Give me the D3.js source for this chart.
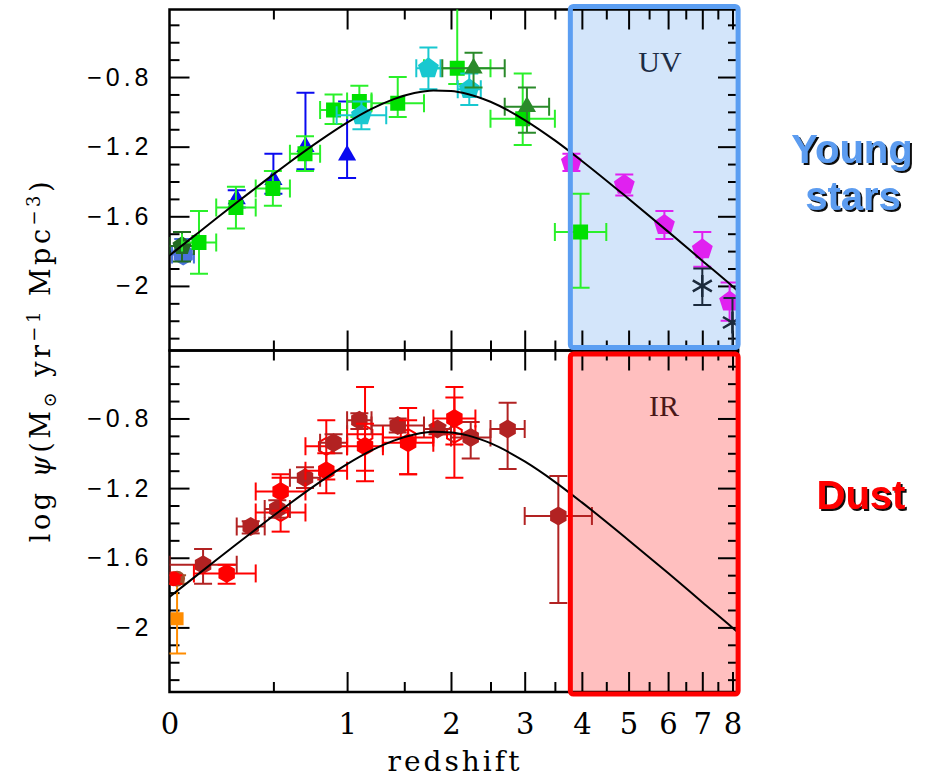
<!DOCTYPE html>
<html>
<head>
<meta charset="utf-8">
<script src="https://cdn.jsdelivr.net/npm/d3@7"></script>
<style>
  html, body { margin: 0; padding: 0; background: #ffffff; }
  svg { display: block; }
</style>
</head>
<body>
<script>
// ---------------- data ----------------
// axis ticks
const xMajorTicks = [0, 1, 2, 3, 4, 5, 6, 7, 8];
const xMinorTicks = [0.5, 1.5, 2.5, 3.5, 4.5, 5.5, 6.5, 7.5];
const yMajorTicks = [-0.8, -1.2, -1.6, -2.0];
const yTickLabels = ["\u22120.8", "\u22121.2", "\u22121.6", "\u22122"];
const yMinorTicks = [-0.5, -0.6, -0.7, -0.9, -1.0, -1.1, -1.3, -1.4, -1.5, -1.7, -1.8, -1.9, -2.1, -2.2, -2.3];

// best-fit star formation history curve
const curveZ   = [0, 0.1, 0.2, 0.3, 0.4, 0.5, 0.6, 0.8, 1.0, 1.2, 1.4, 1.6, 1.8, 2.0, 2.2, 2.5, 3.0, 3.5, 4.0, 5.0, 6.0, 7.0, 8.0, 8.2];
const curveLog = [-1.825, -1.714, -1.613, -1.521, -1.437, -1.359, -1.288, -1.164, -1.062, -0.983, -0.927, -0.892, -0.877, -0.880, -0.897, -0.942, -1.047, -1.164, -1.282, -1.499, -1.688, -1.855, -2.002, -2.030];

// ---- rest-frame UV measurements ----
const wyderZ = [0.055], wyderZlo = [0.01], wyderZhi = [0.1];
const wyderLog = [-1.82], wyderUp = [0.09], wyderDn = [0.02];

const robothamZ = [0.05], robothamZlo = [0.0], robothamZhi = [0.1];
const robothamLog = [-1.77], robothamUp = [0.08], robothamDn = [0.09];

const schiminovichZ = [0.3, 0.5, 0.7, 1.0];
const schiminovichLog = [-1.50, -1.39, -1.20, -1.25];
const schiminovichUp = [0.05, 0.15, 0.31, 0.31];
const schiminovichDn = [0.05, 0.08, 0.13, 0.13];

const cucciatiZ   = [0.122, 0.296, 0.497, 0.697, 0.897, 1.098, 1.437, 2.074, 2.969, 3.975];
const cucciatiZlo = [0.05, 0.2, 0.4, 0.6, 0.8, 1.0, 1.2, 1.7, 2.5, 3.5];
const cucciatiZhi = [0.2, 0.4, 0.6, 0.8, 1.0, 1.2, 1.7, 2.5, 3.5, 4.5];
const cucciatiLog = [-1.75, -1.55, -1.44, -1.24, -0.99, -0.94, -0.95, -0.75, -1.04, -1.69];
const cucciatiUp  = [0.18, 0.12, 0.10, 0.10, 0.09, 0.09, 0.15, 0.49, 0.26, 0.22];
const cucciatiDn  = [0.18, 0.12, 0.10, 0.10, 0.08, 0.09, 0.08, 0.09, 0.15, 0.32];

const dahlenZ   = [1.115, 1.747, 2.222];
const dahlenZlo = [0.92, 1.62, 2.08];
const dahlenZhi = [1.33, 1.88, 2.37];
const dahlenLog = [-1.02, -0.75, -0.87];
const dahlenUp  = [0.08, 0.12, 0.09];
const dahlenDn  = [0.08, 0.12, 0.09];

const reddyZ   = [2.276, 3.035];
const reddyZlo = [1.9, 2.7];
const reddyZhi = [2.7, 3.4];
const reddyLog = [-0.75, -0.97];
const reddyUp  = [0.09, 0.11];
const reddyDn  = [0.11, 0.15];

const bouwensZ   = [3.8, 4.9, 5.9, 7.0, 7.9];
const bouwensLog = [-1.29, -1.42, -1.65, -1.79, -2.09];
const bouwensUp  = [0.05, 0.06, 0.08, 0.10, 0.11];
const bouwensDn  = [0.05, 0.06, 0.08, 0.10, 0.11];

const schenkerZ   = [7.0, 8.0];
const schenkerLog = [-2.00, -2.21];
const schenkerUp  = [0.10, 0.14];
const schenkerDn  = [0.11, 0.14];

// ---- far-infrared measurements ----
const sandersZ = [0.03], sandersLog = [-1.72], sandersUp = [0.02], sandersDn = [0.03];
const localRedZ = [0.015], localRedLog = [-1.72], localRedUp = [0.02], localRedDn = [0.03];
const takeuchiZ = [0.03], takeuchiLog = [-1.95], takeuchiUp = [0.20], takeuchiDn = [0.20];

const magnelli11Z   = [0.543, 0.844, 1.145, 1.538, 2.040];
const magnelli11Zlo = [0.4, 0.7, 1.0, 1.3, 1.8];
const magnelli11Zhi = [0.7, 1.0, 1.3, 1.8, 2.3];
const magnelli11Log = [-1.34, -0.96, -0.89, -0.91, -0.89];
const magnelli11Up  = [0.22, 0.15, 0.27, 0.17, 0.21];
const magnelli11Dn  = [0.11, 0.19, 0.21, 0.21, 0.25];

const magnelli13Z   = [0.25, 0.543, 0.844, 1.145, 1.538, 2.040];
const magnelli13Zlo = [0.1, 0.4, 0.7, 1.0, 1.3, 1.8];
const magnelli13Zhi = [0.4, 0.7, 1.0, 1.3, 1.8, 2.3];
const magnelli13Log = [-1.69, -1.22, -1.10, -0.96, -0.94, -0.80];
const magnelli13Up  = [0.05, 0.08, 0.10, 0.13, 0.13, 0.18];
const magnelli13Dn  = [0.06, 0.11, 0.13, 0.20, 0.18, 0.15];

const gruppioniZ   = [0.140, 0.373, 0.523, 0.697, 0.897, 1.098, 1.437, 1.846, 2.240, 2.742, 3.561];
const gruppioniZlo = [0.0, 0.3, 0.45, 0.6, 0.8, 1.0, 1.2, 1.7, 2.0, 2.5, 3.0];
const gruppioniZhi = [0.3, 0.45, 0.6, 0.8, 1.0, 1.2, 1.7, 2.0, 2.5, 3.0, 4.2];
const gruppioniLog = [-1.64, -1.42, -1.32, -1.14, -0.94, -0.81, -0.84, -0.86, -0.91, -0.86, -1.36];
const gruppioniUp  = [0.09, 0.03, 0.05, 0.06, 0.05, 0.04, 0.04, 0.02, 0.09, 0.15, 0.23];
const gruppioniDn  = [0.11, 0.04, 0.05, 0.06, 0.06, 0.05, 0.04, 0.03, 0.12, 0.23, 0.50];

// redshift range highlighted in each panel
const boxZ = [3.78, 8.2];

// ---------------- layout ----------------
const W = 934, H = 782;
const L = 169.5, R = 738;
const topY0 = 9.5, midY = 350.5, botY1 = 692;
const yDomain = [-2.371, -0.412];

const xs = d3.scaleLog().domain([1, 9.196]).range([L, R]);
const x = z => xs(1 + z);
// redshift scale for the axis generators (log of 1+z under the hood)
const xz = Object.assign(z => x(z), { range: () => xs.range(), copy: () => xz });
const yTop = d3.scaleLinear().domain(yDomain).range([midY, topY0]);
const yBot = d3.scaleLinear().domain(yDomain).range([botY1, midY + 0.4]);

const svg = d3.select("body").append("svg").attr("width", W).attr("height", H)
  .attr("font-family", "'DejaVu Serif', serif");

const defs = svg.append("defs");
defs.append("clipPath").attr("id", "clipTop").append("rect")
  .attr("x", L).attr("y", topY0).attr("width", R - L).attr("height", midY - topY0);
defs.append("clipPath").attr("id", "clipBot").append("rect")
  .attr("x", L).attr("y", midY).attr("width", R - L).attr("height", botY1 - midY);
const shadow = defs.append("filter").attr("id", "dropShadow")
  .attr("x", "-10%").attr("y", "-10%").attr("width", "130%").attr("height", "130%");
shadow.append("feDropShadow").attr("dx", 2).attr("dy", 2).attr("stdDeviation", 0.4)
  .attr("flood-color", "#000").attr("flood-opacity", 0.95);

// ---------------- marker shapes ----------------
function polygon(n, r, rot) {
  const pts = d3.range(n).map(i => {
    const a = rot + i * 2 * Math.PI / n - Math.PI / 2;
    return [r * Math.cos(a), r * Math.sin(a)];
  });
  return "M" + pts.map(p => p.join(",")).join("L") + "Z";
}
const shapes = {
  square: s => `M${-s/2},${-s/2}h${s}v${s}h${-s}Z`,
  pentagon: r => polygon(5, r, 0),
  hexagon: r => polygon(6, r, 0),
  triangle: r => polygon(3, r, 0),
  circle: r => `M${-r},0a${r},${r} 0 1,0 ${2*r},0a${r},${r} 0 1,0 ${-2*r},0Z`,
  asterisk: r => d3.range(3).map(i => {
    const a = Math.PI / 2 + i * Math.PI / 3;
    const dx = r * Math.cos(a), dy = r * Math.sin(a);
    return `M${-dx},${-dy}L${dx},${dy}`;
  }).join("")
};

// draws one data set: error bars first, then markers
function drawSeries(g, y, s) {
  const pts = s.z.map((z, i) => ({
    z, v: s.v[i], up: s.up[i], dn: s.dn[i],
    zlo: s.zlo ? s.zlo[i] : null, zhi: s.zhi ? s.zhi[i] : null
  }));
  const cap = 9;
  const eb = g.append("g").attr("stroke", s.barColor || s.color)
    .attr("stroke-width", 2).attr("fill", "none");
  pts.forEach(p => {
    const cx = x(p.z), cy = y(p.v);
    const y1 = y(p.v + p.up), y2 = y(p.v - p.dn);
    eb.append("line").attr("x1", cx).attr("x2", cx).attr("y1", y1).attr("y2", y2);
    eb.append("line").attr("x1", cx - cap).attr("x2", cx + cap).attr("y1", y1).attr("y2", y1);
    eb.append("line").attr("x1", cx - cap).attr("x2", cx + cap).attr("y1", y2).attr("y2", y2);
    if (p.zlo !== null) {
      const xa = x(p.zlo), xb = x(p.zhi);
      eb.append("line").attr("x1", xa).attr("x2", xb).attr("y1", cy).attr("y2", cy);
      eb.append("line").attr("x1", xa).attr("x2", xa).attr("y1", cy - cap).attr("y2", cy + cap);
      eb.append("line").attr("x1", xb).attr("x2", xb).attr("y1", cy - cap).attr("y2", cy + cap);
    }
  });
  g.append("g").selectAll("path").data(pts).join("path")
    .attr("transform", p => `translate(${x(p.z)},${y(p.v)})`)
    .attr("d", shapes[s.shape](s.size))
    .attr("fill", s.open || s.shape === "asterisk" ? "none" : s.color)
    .attr("stroke", s.open || s.shape === "asterisk" ? s.color : "none")
    .attr("stroke-width", s.shape === "asterisk" ? 2.5 : 2);
}

// ---------------- highlighted high-redshift boxes (fill) ----------------
const bx0 = x(boxZ[0]), bx1 = x(boxZ[1]);
svg.append("rect").attr("x", bx0).attr("y", 6.5).attr("width", bx1 - bx0).attr("height", 341)
  .attr("fill", "#d3e5fa");
svg.append("rect").attr("x", bx0).attr("y", 354).attr("width", bx1 - bx0).attr("height", 340)
  .attr("fill", "#ffbfbf");

// ---------------- axes & frames ----------------
function panelAxes(y, y0, y1) {
  const g = svg.append("g").attr("font-family", "'DejaVu Serif', serif");
  // left
  g.append("g").attr("transform", `translate(${L},0)`)
    .call(d3.axisLeft(y).tickValues(yMajorTicks).tickSizeInner(-20).tickSizeOuter(0).tickPadding(17)
      .tickFormat((d, i) => yTickLabels[i]))
    .call(a => a.select(".domain").remove())
    .call(a => a.selectAll("text").attr("font-size", 25).attr("letter-spacing", 4).attr("fill", "#000"));
  g.append("g").attr("transform", `translate(${L},0)`)
    .call(d3.axisLeft(y).tickValues(yMinorTicks).tickSizeInner(-10).tickSizeOuter(0).tickFormat(""))
    .call(a => a.select(".domain").remove());
  // right
  g.append("g").attr("transform", `translate(${R},0)`)
    .call(d3.axisRight(y).tickValues(yMajorTicks).tickSizeInner(-20).tickSizeOuter(0).tickFormat(""))
    .call(a => a.select(".domain").remove());
  g.append("g").attr("transform", `translate(${R},0)`)
    .call(d3.axisRight(y).tickValues(yMinorTicks).tickSizeInner(-10).tickSizeOuter(0).tickFormat(""))
    .call(a => a.select(".domain").remove());
  // top & bottom edges of the panel
  [[y0, d3.axisTop], [y1, d3.axisBottom]].forEach(([yy, ax]) => {
    g.append("g").attr("transform", `translate(0,${yy})`)
      .call(ax(xz).tickValues(xMajorTicks.filter(v => v > 0)).tickSizeInner(-20).tickSizeOuter(0).tickFormat(""))
      .call(a => a.select(".domain").remove());
    g.append("g").attr("transform", `translate(0,${yy})`)
      .call(ax(xz).tickValues(xMinorTicks).tickSizeInner(-10).tickSizeOuter(0).tickFormat(""))
      .call(a => a.select(".domain").remove());
  });
  g.selectAll(".tick line").attr("stroke", "#000").attr("stroke-width", 2);
  g.append("rect").attr("x", L).attr("y", y0).attr("width", R - L).attr("height", y1 - y0)
    .attr("fill", "none").attr("stroke", "#000").attr("stroke-width", 2.5);
}
panelAxes(yTop, topY0, midY);
panelAxes(yBot, midY, botY1);

// x tick labels along the bottom
svg.append("g").attr("transform", `translate(0,${botY1})`)
  .call(d3.axisBottom(xz).tickValues(xMajorTicks).tickSize(0).tickPadding(21).tickFormat(d3.format("d")))
  .call(a => a.select(".domain").remove())
  .call(a => a.selectAll("text").attr("font-size", 29).attr("font-family", "'DejaVu Serif', serif").attr("fill", "#000"));

// ---------------- data ----------------
const gTop = svg.append("g").attr("clip-path", "url(#clipTop)");
const gBot = svg.append("g").attr("clip-path", "url(#clipBot)");

const uvSeries = [
  { z: wyderZ, zlo: wyderZlo, zhi: wyderZhi, v: wyderLog, up: wyderUp, dn: wyderDn, color: "#4a72dc", shape: "hexagon", size: 11 },
  { z: robothamZ, zlo: robothamZlo, zhi: robothamZhi, v: robothamLog, up: robothamUp, dn: robothamDn, color: "#226b22", shape: "pentagon", size: 10 },
  { z: schiminovichZ, v: schiminovichLog, up: schiminovichUp, dn: schiminovichDn, color: "#0a0af0", shape: "triangle", size: 10.5 },
  { z: cucciatiZ, zlo: cucciatiZlo, zhi: cucciatiZhi, v: cucciatiLog, up: cucciatiUp, dn: cucciatiDn, color: "#00e000", barColor: "#2af02a", shape: "square", size: 15 },
  { z: dahlenZ, zlo: dahlenZlo, zhi: dahlenZhi, v: dahlenLog, up: dahlenUp, dn: dahlenDn, color: "#18c8d0", shape: "pentagon", size: 11 },
  { z: reddyZ, zlo: reddyZlo, zhi: reddyZhi, v: reddyLog, up: reddyUp, dn: reddyDn, color: "#2a8a2a", shape: "triangle", size: 10.5 },
  { z: bouwensZ, v: bouwensLog, up: bouwensUp, dn: bouwensDn, color: "#e021f0", shape: "pentagon", size: 11 },
  { z: schenkerZ, v: schenkerLog, up: schenkerUp, dn: schenkerDn, color: "#1b2a3c", shape: "asterisk", size: 11 }
];
uvSeries.forEach(s => drawSeries(gTop, yTop, s));

const irSeries = [
  { z: takeuchiZ, v: takeuchiLog, up: takeuchiUp, dn: takeuchiDn, color: "#ff8c00", shape: "square", size: 13 },
  { z: sandersZ, v: sandersLog, up: sandersUp, dn: sandersDn, color: "#a0522d", shape: "circle", size: 8 },
  { z: localRedZ, v: localRedLog, up: localRedUp, dn: localRedDn, color: "#ff0000", shape: "circle", size: 7.5 },
  { z: magnelli11Z, zlo: magnelli11Zlo, zhi: magnelli11Zhi, v: magnelli11Log, up: magnelli11Up, dn: magnelli11Dn, color: "#ff0000", shape: "hexagon", size: 8.5, open: true },
  { z: gruppioniZ, zlo: gruppioniZlo, zhi: gruppioniZhi, v: gruppioniLog, up: gruppioniUp, dn: gruppioniDn, color: "#b22222", shape: "hexagon", size: 9.5 },
  { z: magnelli13Z, zlo: magnelli13Zlo, zhi: magnelli13Zhi, v: magnelli13Log, up: magnelli13Up, dn: magnelli13Dn, color: "#ff0000", shape: "hexagon", size: 9.5 }
];
irSeries.forEach(s => drawSeries(gBot, yBot, s));

// best-fit curve in both panels
const curvePts = curveZ.map((z, i) => ({ z, v: curveLog[i] }));
[[gTop, yTop], [gBot, yBot]].forEach(([g, y]) => {
  g.append("path").datum(curvePts)
    .attr("d", d3.line().x(d => x(d.z)).y(d => y(d.v)).curve(d3.curveMonotoneX))
    .attr("fill", "none").attr("stroke", "#000").attr("stroke-width", 2);
});

// ---------------- box outlines ----------------
svg.append("rect").attr("x", bx0).attr("y", 6.5).attr("width", bx1 - bx0).attr("height", 341)
  .attr("rx", 3).attr("fill", "none").attr("stroke", "#5b9ef2").attr("stroke-width", 5);
svg.append("rect").attr("x", bx0).attr("y", 354).attr("width", bx1 - bx0).attr("height", 340)
  .attr("rx", 3).attr("fill", "none").attr("stroke", "#ff0000").attr("stroke-width", 5);

svg.append("text").attr("x", 660).attr("y", 72).attr("text-anchor", "middle")
  .attr("font-family", "'Liberation Serif', serif").attr("font-size", 30).attr("fill", "#1c2c44").text("UV");
svg.append("text").attr("x", 664).attr("y", 416).attr("text-anchor", "middle")
  .attr("font-family", "'Liberation Serif', serif").attr("font-size", 30).attr("fill", "#4a1818").text("IR");

// ---------------- axis titles ----------------
svg.append("text").attr("x", 455).attr("y", 771).attr("text-anchor", "middle")
  .attr("font-size", 28).attr("letter-spacing", 3).text("redshift");

const yt = svg.append("text").attr("transform", "translate(50,360) rotate(-90)")
  .attr("text-anchor", "middle").attr("font-size", 27).attr("letter-spacing", 3.5);
yt.append("tspan").text("log ");
yt.append("tspan").attr("font-style", "italic").text("\u03c8");
yt.append("tspan").text("(M");
yt.append("tspan").attr("font-size", 18).attr("dy", 6).text("\u2299");
yt.append("tspan").attr("dy", -6).text(" yr");
yt.append("tspan").attr("font-size", 18).attr("dy", -10).text("\u22121");
yt.append("tspan").attr("dy", 10).text(" Mpc");
yt.append("tspan").attr("font-size", 18).attr("dy", -10).text("\u22123");
yt.append("tspan").attr("dy", 10).text(")");

// ---------------- side annotations ----------------
function shadowText(xp, yp, str, color) {
  svg.append("text").attr("x", xp).attr("y", yp)
    .attr("font-family", "'Liberation Sans', Arial, sans-serif")
    .attr("font-weight", "bold").attr("font-size", 40).attr("text-anchor", "middle")
    .attr("fill", color).attr("filter", "url(#dropShadow)").text(str);
}
shadowText(852, 163, "Young", "#5b9cf0");
shadowText(853, 210, "stars", "#5b9cf0");
shadowText(861, 509, "Dust", "#ff0000");
</script>
</body>
</html>
